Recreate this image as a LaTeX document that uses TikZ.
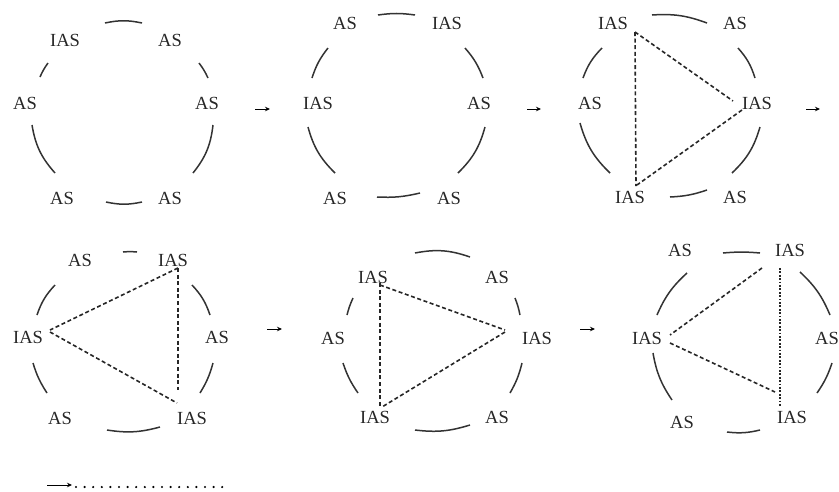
\documentclass[tikz,border=0pt]{standalone}
\usepackage{fontspec}
\setmainfont{Liberation Serif}
\usetikzlibrary{arrows.meta}
\begin{document}
\begin{tikzpicture}[x=1pt,y=-1pt,
  lbl/.style={inner sep=0pt, font=\fontsize{18.5}{20}\selectfont, text=black!85},
  ring/.style={draw=black!80, line width=1.5pt},
  link/.style={draw=black!85, line width=1.6pt, dash pattern=on 4pt off 2.6pt},
  finelink/.style={draw=black!85, line width=1.6pt, dash pattern=on 1.8pt off 1.6pt},
  nextarrow/.style={draw=black, line width=1pt, -{Stealth[length=5pt,width=4.5pt]}},
]
\useasboundingbox (0,0) rectangle (839,491);

% ---------- panel 1 ----------
\node[lbl] (a1) at (65,40) {IAS};
\node[lbl] (a2) at (170,40) {AS};
\node[lbl] (a3) at (25,103) {AS};
\node[lbl] (a4) at (207,103) {AS};
\node[lbl] (a5) at (62,198) {AS};
\node[lbl] (a6) at (170,198) {AS};
\draw[ring] (142,23) to[bend right=12] (105,23);
\draw[ring] (48,63) to[bend right=6] (40,77);
\draw[ring] (32,125) to[bend right=16] (55,173);
\draw[ring] (106,202) to[bend right=12] (142,202);
\draw[ring] (193,173) to[bend right=16] (213,125);
\draw[ring] (208,78) to[bend right=6] (199,63);

% ---------- panel 2 ----------
\node[lbl] (b1) at (345,23) {AS};
\node[lbl] (b2) at (447,23) {IAS};
\node[lbl] (b3) at (318,103) {IAS};
\node[lbl] (b4) at (479,103) {AS};
\node[lbl] (b5) at (335,198) {AS};
\node[lbl] (b6) at (449,198) {AS};
\draw[ring] (415,15) to[bend right=8] (378,15);
\draw[ring] (328,48) to[bend right=10] (312,78);
\draw[ring] (308,127) to[bend right=15] (335,173);
\draw[ring] (377,197) to[bend right=8] (420,193);
\draw[ring] (458,173) to[bend right=15] (485,127);
\draw[ring] (483,78) to[bend right=10] (465,48);

% ---------- panel 3 ----------
\node[lbl] (c1) at (613,23) {IAS};
\node[lbl] (c2) at (735,23) {AS};
\node[lbl] (c3) at (590,103) {AS};
\node[lbl] (c4) at (757,103) {IAS};
\node[lbl] (c5) at (630,197) {IAS};
\node[lbl] (c6) at (735,197) {AS};
\draw[ring] (707,23) to[bend right=12] (652,15);
\draw[ring] (602,48) to[bend right=12] (583,78);
\draw[ring] (580,123) to[bend right=15] (610,173);
\draw[ring] (670,197) to[bend right=8] (707,190);
\draw[ring] (732,173) to[bend right=15] (760,127);
\draw[ring] (755,78) to[bend right=12] (738,48);
\draw[link] ([shift={(22,9)}]c1.center) -- ([shift={(6,-11)}]c5.center);
\draw[link] ([shift={(22,9)}]c1.center) -- ([shift={(-24,-2)}]c4.center);
\draw[link] ([shift={(-15,7)}]c4.center) -- ([shift={(7,-12)}]c5.center);

% ---------- panel 4 ----------
\node[lbl] (d1) at (80,260) {AS};
\node[lbl] (d2) at (173,260) {IAS};
\node[lbl] (d3) at (28,337) {IAS};
\node[lbl] (d4) at (217,337) {AS};
\node[lbl] (d5) at (60,418) {AS};
\node[lbl] (d6) at (192,418) {IAS};
\draw[ring] (137,252) to[bend right=5] (123,252);
\draw[ring] (55,285) to[bend right=12] (37,315);
\draw[ring] (33,363) to[bend right=8] (47,393);
\draw[ring] (107,430) to[bend right=12] (160,427);
\draw[ring] (200,393) to[bend right=8] (213,363);
\draw[ring] (210,315) to[bend right=12] (192,285);
\draw[link] ([shift={(5,8)}]d2.center) -- ([shift={(-14,-28)}]d6.center);
\draw[link] ([shift={(5,8)}]d2.center) -- ([shift={(22,-7)}]d3.center);
\draw[link] ([shift={(22,-5)}]d3.center) -- ([shift={(-15,-15)}]d6.center);

% ---------- panel 5 ----------
\node[lbl] (e1) at (373,277) {IAS};
\node[lbl] (e2) at (497,277) {AS};
\node[lbl] (e3) at (333,338) {AS};
\node[lbl] (e4) at (537,338) {IAS};
\node[lbl] (e5) at (375,417) {IAS};
\node[lbl] (e6) at (497,417) {AS};
\draw[ring] (470,257) to[bend right=15] (415,253);
\draw[ring] (353,298) to[bend right=5] (347,315);
\draw[ring] (343,363) to[bend right=8] (358,393);
\draw[ring] (415,430) to[bend right=12] (470,425);
\draw[ring] (510,393) to[bend right=8] (522,363);
\draw[ring] (520,315) to[bend right=5] (515,298);
\draw[link] ([shift={(7,6)}]e1.center) -- ([shift={(5,-10)}]e5.center);
\draw[link] ([shift={(7,8)}]e1.center) -- ([shift={(-32,-8)}]e4.center);
\draw[link] ([shift={(-32,-6)}]e4.center) -- ([shift={(7,-10)}]e5.center);

% ---------- panel 6 ----------
\node[lbl] (f1) at (680,250) {AS};
\node[lbl] (f2) at (790,250) {IAS};
\node[lbl] (f3) at (647,338) {IAS};
\node[lbl] (f4) at (827,338) {AS};
\node[lbl] (f5) at (682,422) {AS};
\node[lbl] (f6) at (792,417) {IAS};
\draw[ring] (760,253) to[bend right=5] (723,253);
\draw[ring] (687,273) to[bend right=12] (657,315);
\draw[ring] (653,353) to[bend right=12] (672,400);
\draw[ring] (727,432) to[bend right=10] (760,430);
\draw[ring] (817,393) to[bend right=8] (832,363);
\draw[ring] (830,315) to[bend right=12] (800,272);
\draw[finelink] ([shift={(-10,18)}]f2.center) -- ([shift={(-12,-10)}]f6.center);
\draw[link] ([shift={(-28,18)}]f2.center) -- ([shift={(23,-3)}]f3.center);
\draw[link] ([shift={(23,5)}]f3.center) -- ([shift={(-17,-25)}]f6.center);

% ---------- arrows between stages ----------
\coordinate (s1a) at (255,109); \coordinate (s1b) at (270,109);
\coordinate (s2a) at (527,109); \coordinate (s2b) at (541,109);
\coordinate (s3a) at (806,109); \coordinate (s3b) at (820,109);
\coordinate (s4a) at (267,329); \coordinate (s4b) at (282,329);
\coordinate (s5a) at (580,329); \coordinate (s5b) at (595,329);
\draw[nextarrow] (s1a) -- (s1b);
\draw[nextarrow] (s2a) -- (s2b);
\draw[nextarrow] (s3a) -- (s3b);
\draw[nextarrow] (s4a) -- (s4b);
\draw[nextarrow] (s5a) -- (s5b);

% ---------- legend line ----------
\coordinate (legA) at (47,485);
\coordinate (legB) at (72,485);
\coordinate (dotA) at (76,487);
\coordinate (dotB) at (224,487);
\draw[nextarrow] (legA) -- (legB);
\draw[black, line width=2.4pt, line cap=round, dash pattern=on 0pt off 8.6pt] (dotA) -- (dotB);
\end{tikzpicture}
\end{document}
